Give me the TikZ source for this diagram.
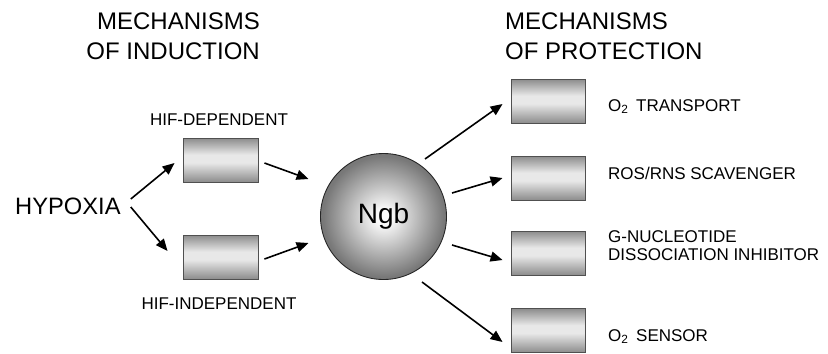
\documentclass[tikz,border=0pt]{standalone}
\usepackage{fontspec}
\setmainfont{Liberation Sans}
\usetikzlibrary{arrows.meta}
\definecolor{boxdark}{RGB}{140,140,140}
\definecolor{boxlight}{RGB}{232,232,232}
\definecolor{boxedge}{RGB}{80,80,80}
\definecolor{ngbdark}{RGB}{120,120,120}
\definecolor{ngblight}{RGB}{250,250,250}
\pgfdeclareradialshading{ngbshade}{\pgfpoint{0bp}{0bp}}{color(0bp)=(ngblight); color(3bp)=(ngblight); color(24bp)=(ngbdark); color(50bp)=(ngbdark)}
\pgfdeclareverticalshading{boxshade}{100bp}{color(0bp)=(boxdark); color(25bp)=(boxdark); color(47bp)=(boxlight); color(56bp)=(boxlight); color(75bp)=(boxdark); color(100bp)=(boxdark)}
\tikzset{
  gbox/.style={draw=boxedge, line width=0.9bp, minimum width=75bp, minimum height=44bp, inner sep=0pt,
    shading=boxshade},
  arr/.style={line width=1.6bp, -{Triangle[length=12bp,width=10bp]}},
  lbl/.style={inner sep=0pt, font=\fontsize{17bp}{18bp}\selectfont},
  ttl/.style={inner sep=0pt, font=\fontsize{24bp}{29.5bp}\selectfont},
}
\begin{document}
\begin{tikzpicture}[x=1bp, y=-1bp]
\useasboundingbox (0,0) rectangle (828,353);
\fill[white] (0,0) rectangle (828,353);

\node[ttl, anchor=north east, align=right] (tl) at (260,13) {MECHANISMS\\OF INDUCTION};
\node[ttl, anchor=north west, align=left] (tr) at (505,13) {MECHANISMS\\OF PROTECTION};

\node[inner sep=0pt, anchor=west, font=\fontsize{23.7bp}{28bp}\selectfont] (hyp) at (15,206.5) {HYPOXIA};

\node[lbl, anchor=north] (hdl) at (219,114) {HIF-DEPENDENT};
\node[lbl, anchor=north] (hil) at (219,298) {HIF-INDEPENDENT};

\node[gbox] (hd) at (220.5,160) {};
\node[gbox] (hi) at (220.5,257) {};

\node[circle, minimum size=126bp, inner sep=0pt, draw=black!85, line width=0.9bp, shading=ngbshade,
      font=\fontsize{28bp}{32bp}\selectfont] (ngb) at (383.5,216.5) {Ngb};

\node[gbox, minimum width=74bp] (o2t) at (548,101) {};
\node[gbox, minimum width=74bp] (ros) at (548,178) {};
\node[gbox, minimum width=74bp] (gnd) at (548,253) {};
\node[gbox, minimum width=74bp] (sen) at (548,330.5) {};

\node[lbl, anchor=base west] (o2tl) at (608,111) {O\textsubscript{2}\hspace{0.45em}TRANSPORT};
\node[lbl, anchor=base west] (rosl) at (608,179) {ROS/RNS SCAVENGER};
\node[lbl, anchor=north west, align=left] (gndl) at (608,230) {G-NUCLEOTIDE\\DISSOCIATION INHIBITOR};
\node[lbl, anchor=base west] (senl) at (608,341) {O\textsubscript{2}\hspace{0.45em}SENSOR};

\draw[arr] ([xshift=10bp,yshift=7.5bp]hyp.east) -- ([xshift=-8bp,yshift=-3bp]hd.west);
\draw[arr] ([xshift=10bp,yshift=-0.5bp]hyp.east) -- ([xshift=-15bp,yshift=6bp]hi.west);
\draw[arr] ([xshift=6bp,yshift=-3bp]hd.east) -- ([xshift=-11.5bp,yshift=37.5bp]ngb.west);
\draw[arr] ([xshift=6bp,yshift=-2bp]hi.east) -- ([xshift=-11.5bp,yshift=-26.5bp]ngb.west);

\draw[arr] ([xshift=41.5bp,yshift=57.5bp]ngb.center) -- ([xshift=-8bp,yshift=-3bp]o2t.west);
\draw[arr] ([xshift=68.5bp,yshift=23.5bp]ngb.center) -- ([xshift=-8bp]ros.west);
\draw[arr] ([xshift=68.5bp,yshift=-28.5bp]ngb.center) -- ([xshift=-8bp,yshift=-7bp]gnd.west);
\draw[arr] ([xshift=38.5bp,yshift=-65.5bp]ngb.center) -- ([xshift=-8bp,yshift=-11.5bp]sen.west);
\end{tikzpicture}
\end{document}
